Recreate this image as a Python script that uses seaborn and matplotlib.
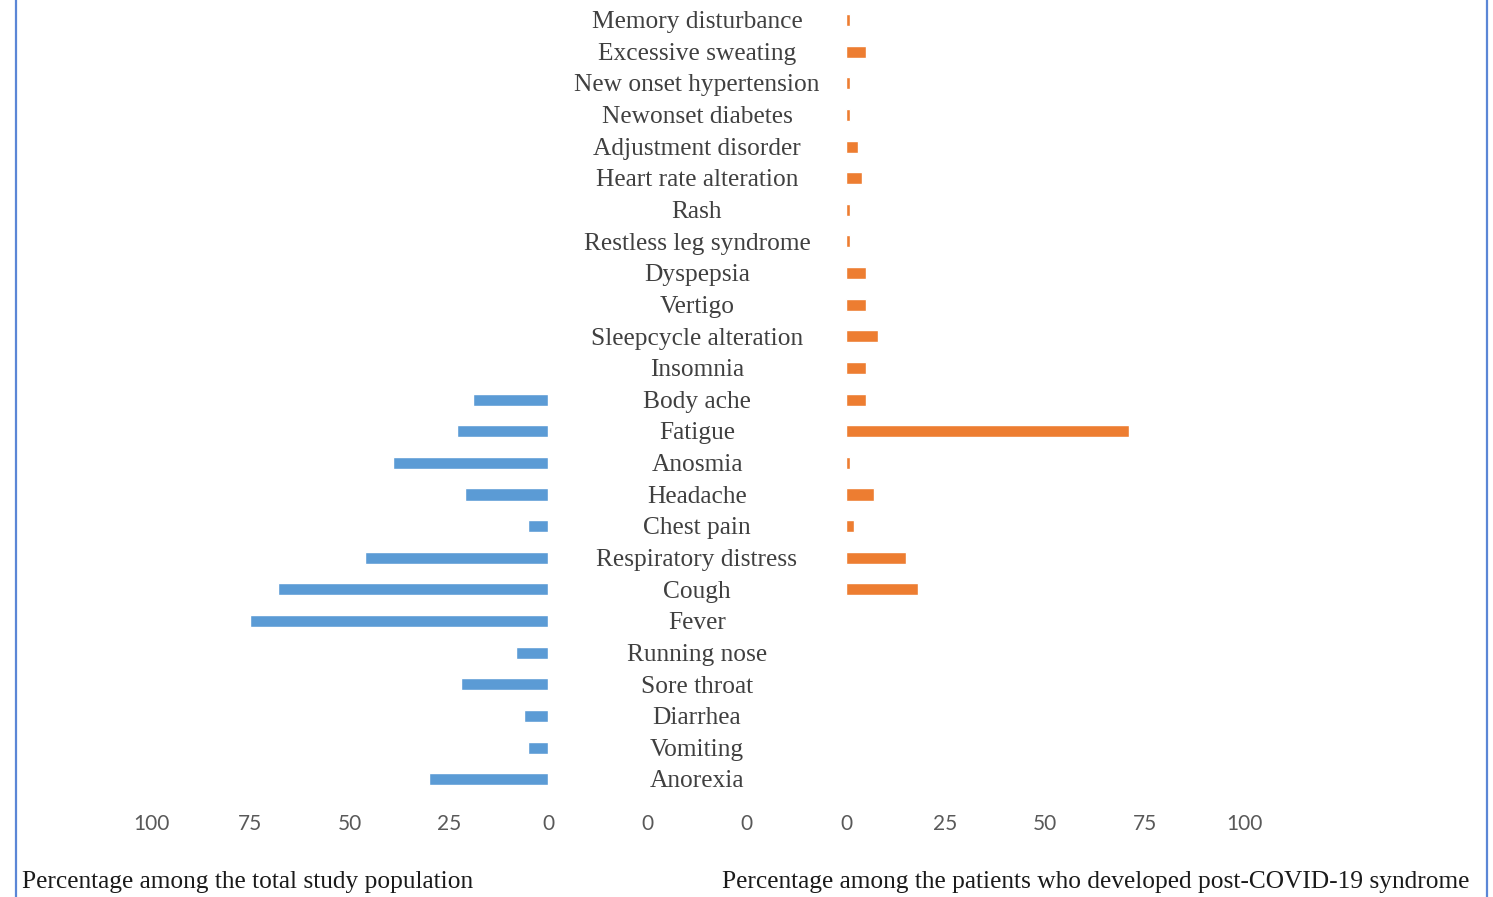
import matplotlib
matplotlib.use("Agg")
import matplotlib.pyplot as plt
import numpy as np
import pandas as pd
import seaborn as sns
from matplotlib.lines import Line2D
from matplotlib import font_manager

# Symptoms, top to bottom
symptoms = [
    "Memory disturbance", "Excessive sweating", "New onset hypertension",
    "Newonset diabetes", "Adjustment disorder", "Heart rate alteration",
    "Rash", "Restless leg syndrome", "Dyspepsia", "Vertigo",
    "Sleepcycle alteration", "Insomnia", "Body ache", "Fatigue", "Anosmia",
    "Headache", "Chest pain", "Respiratory distress", "Cough", "Fever",
    "Running nose", "Sore throat", "Diarrhea", "Vomiting", "Anorexia",
]

# Acute symptoms, % of the total study population
acute_symptoms = [
    "Body ache", "Fatigue", "Anosmia", "Headache", "Chest pain",
    "Respiratory distress", "Cough", "Fever", "Running nose", "Sore throat",
    "Diarrhea", "Vomiting", "Anorexia",
]
acute_pct = [19, 23, 39, 21, 5, 46, 68, 75, 8, 22, 6, 5, 30]

# Post-COVID-19 symptoms, % of patients who developed the syndrome
post_symptoms = [
    "Memory disturbance", "Excessive sweating", "New onset hypertension",
    "Newonset diabetes", "Adjustment disorder", "Heart rate alteration",
    "Rash", "Restless leg syndrome", "Dyspepsia", "Vertigo",
    "Sleepcycle alteration", "Insomnia", "Body ache", "Fatigue", "Anosmia",
    "Headache", "Chest pain", "Respiratory distress", "Cough",
]
post_pct = [1, 5, 1, 1, 3, 4, 1, 1, 5, 5, 8, 5, 5, 71, 1, 7, 2, 15, 18]

axis_ticks = [0, 25, 50, 75, 100]
left_title = "Percentage among the total study population"
right_title = "Percentage among the patients who developed post-COVID-19 syndrome"

BLUE = "#5B9BD5"
ORANGE = "#ED7D31"

sns.set_style("white")
plt.rcParams["font.family"] = ["Liberation Serif", "DejaVu Serif"]

# Narrow sans face for the numeric tick labels
installed = {f.name for f in font_manager.fontManager.ttflist}
tick_family = next((f for f in ["Liberation Sans Narrow", "Lato", "Roboto"]
                    if f in installed), "DejaVu Sans")

W, H = 1493, 897
fig = plt.figure(figsize=(W / 100, H / 100), dpi=100)

top = 1 - 4.2 / H
bottom = 1 - 795 / H
h = top - bottom

ax_l = fig.add_axes([151 / W, bottom, 397 / W, h])
ax_m = fig.add_axes([548 / W, bottom, 298 / W, h], sharey=ax_l)
ax_r = fig.add_axes([846 / W, bottom, 398 / W, h], sharey=ax_l)

df_l = pd.DataFrame({"symptom": acute_symptoms, "pct": acute_pct})
df_r = pd.DataFrame({"symptom": post_symptoms, "pct": post_pct})

sns.barplot(data=df_l, x="pct", y="symptom", order=symptoms, color=BLUE,
            saturation=1, width=0.38, ax=ax_l)
sns.barplot(data=df_r, x="pct", y="symptom", order=symptoms, color=ORANGE,
            saturation=1, width=0.38, ax=ax_r)

tick_font = dict(family=[tick_family, "DejaVu Sans"], size=15,
                 color="#595959")

ax_l.set_xlim(100, 0)
ax_r.set_xlim(0, 100)
ax_m.set_xlim(0, 3)
for ax in (ax_l, ax_r):
    ax.set_xticks(axis_ticks)
    ax.set_xticklabels([str(t) for t in axis_ticks], **tick_font)
ax_m.set_xticks([1, 2])
ax_m.set_xticklabels(["0", "0"], **tick_font)

ax_l.set_ylim(len(symptoms) - 0.5, -0.5)

for ax in (ax_l, ax_m, ax_r):
    ax.set_xlabel("")
    ax.set_ylabel("")
    ax.tick_params(axis="x", length=0, pad=14)
    ax.tick_params(axis="y", left=False, labelleft=False)
    for s in ax.spines.values():
        s.set_visible(False)
    ax.set_facecolor("none")

for i, name in enumerate(symptoms):
    ax_m.text(1.5, i + 0.07, name, ha="center", va="center", fontsize=18.3,
              color="#404040")

fig.text(22 / W, 1 - 882 / H, left_title, ha="left", va="center",
         fontsize=18.3, color="#1a1a1a")
fig.text(1096 / W, 1 - 882 / H, right_title, ha="center", va="center",
         fontsize=18.3, color="#1a1a1a")

# Frame edges on the left and right
for xpix in (15.5, 1487):
    fig.add_artist(Line2D([xpix / W, xpix / W], [0, 1], color="#5B86D6",
                          lw=1.6, transform=fig.transFigure))

fig.savefig("out.png", dpi=100, facecolor="white")
